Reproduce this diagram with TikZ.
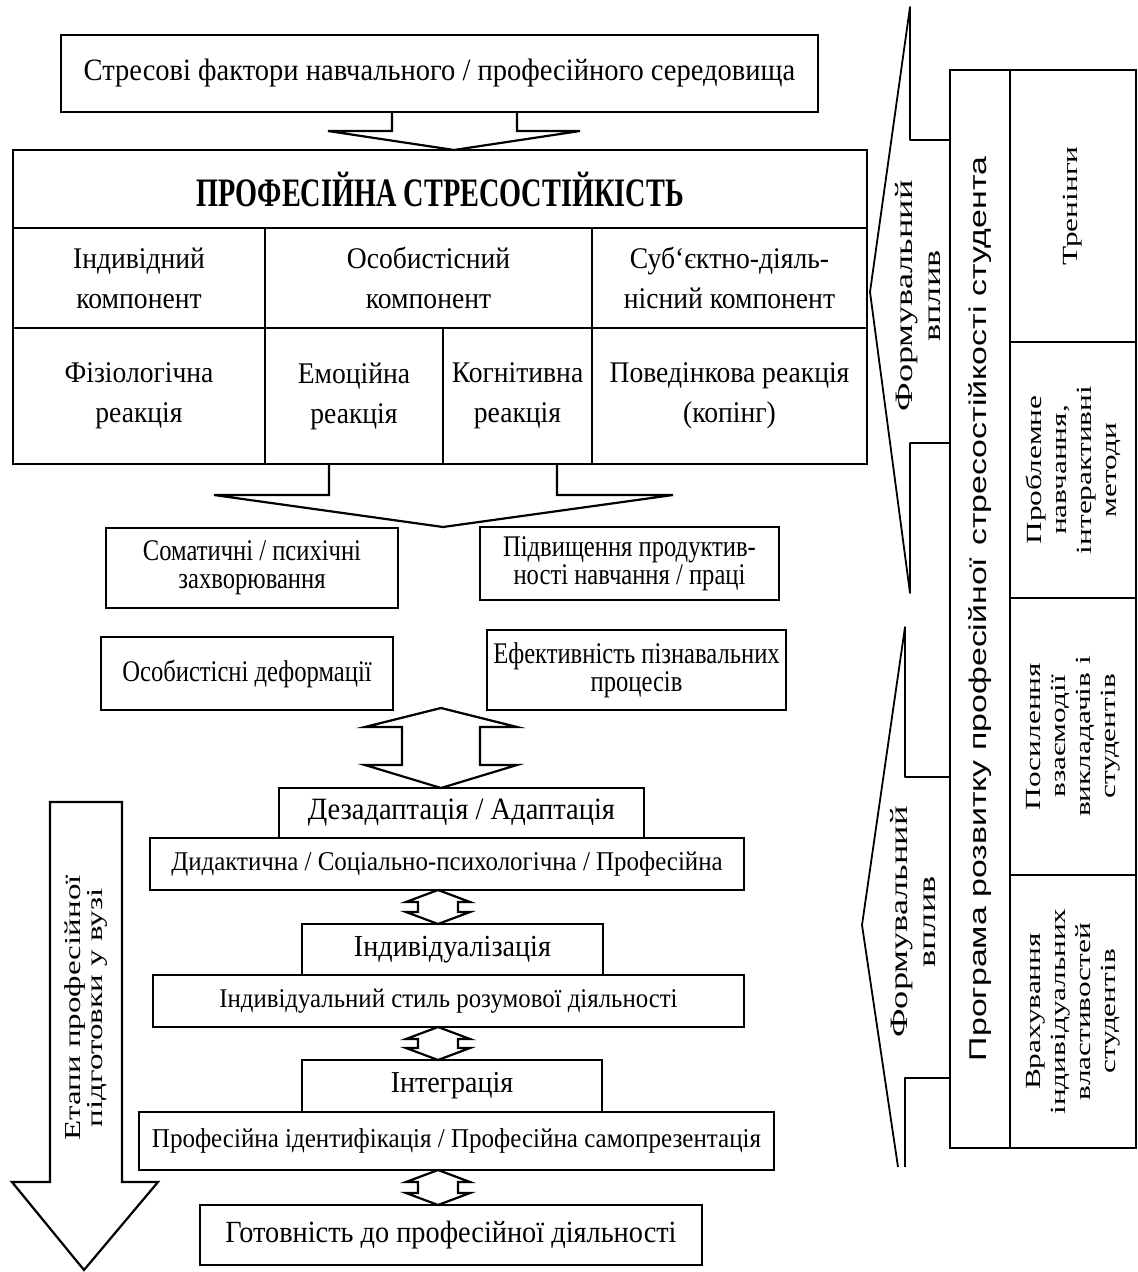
\documentclass[tikz,border=0pt]{standalone}
\usepackage{fontspec}
\setmainfont{Liberation Serif}[FakeStretch=0.92]
\newfontfamily\titlefont{Liberation Serif}[FakeStretch=0.7]
\newfontfamily\narrowfont{Liberation Serif}[FakeStretch=0.82]
\newfontfamily\rotfont{Liberation Serif}[FakeStretch=1.45]
\newfontfamily\rotsans{Liberation Sans}[FakeStretch=1.4]

\tikzset{
  cell/.style={draw, line width=1.35pt, inner sep=0pt, outer sep=0pt, align=center},
  comp/.style={cell, minimum height=50pt, font=\fontsize{15}{20}\selectfont},
  react/.style={cell, minimum height=68pt, font=\fontsize{15}{20}\selectfont},
  outc/.style={cell, font=\narrowfont\fontsize{15}{14}\selectfont},
  stage/.style={cell},
  meth/.style={cell, rotate=90, minimum height=63pt, font=\rotfont\fontsize{10.8}{12.5}\selectfont},
  fat/.style={draw, line width=1.1pt, line join=miter},
  side/.style={draw, line width=0.9pt, line join=round},
  infl/.style={rotate=90, align=center, inner sep=0pt, font=\rotfont\fontsize{12.5}{14}\selectfont}
}

\begin{document}
\begin{tikzpicture}[x=0.5pt, y=-0.5pt]
\useasboundingbox (0,0) rectangle (1138,1272);

% top and main block
\node[cell, minimum width=378.5pt, minimum height=38.5pt, font=\fontsize{15.5}{18}\selectfont] (stress) at (439.5,73.5) {Стресові фактори навчального / професійного середовища};
\node[cell, minimum width=427pt, minimum height=39pt, font=\titlefont\bfseries\fontsize{20.2}{22}\selectfont] (title) at (440,189) {ПРОФЕСІЙНА СТРЕСОСТІЙКІСТЬ};

\node[comp, minimum width=126pt] (ind) at (139,278) {Індивідний\\компонент};
\node[comp, minimum width=163.5pt] (osob) at (428.5,278) {Особистісний\\компонент};
\node[comp, minimum width=137.5pt] (subj) at (729.5,278) {Суб‘єктно-діяль-\\нісний компонент};

\node[react, minimum width=126pt] (fiz) at (139,396) {Фізіологічна\\реакція};
\node[react, minimum width=89pt] (emo) at (354,396) {Емоційна\\реакція};
\node[react, minimum width=74.5pt] (kog) at (517.5,396) {Когнітивна\\реакція};
\node[react, minimum width=137.5pt] (pov) at (729.5,396) {Поведінкова реакція\\(копінг)};

\draw[fat] (392,0 |- stress.south) -- (392,131) -- (328,131) -- (454,0 |- title.north) -- (580,131) -- (517,131) -- (517,0 |- stress.south);

% outcomes
\node[outc, minimum width=146pt, minimum height=40pt] (soma) at (252,568) {Соматичні / психічні\\захворювання};
\node[outc, minimum width=149.5pt, minimum height=36.5pt] (prod) at (629.5,563.5) {Підвищення продуктив-\\ності навчання / праці};
\node[outc, minimum width=146pt, minimum height=36.5pt] (deform) at (247,673.5) {Особистісні деформації};
\node[outc, minimum width=149.5pt, minimum height=40pt] (effect) at (636.5,670) {Ефективність пізнавальних\\процесів};

\draw[fat] (329,0 |- fiz.south) -- (329,495) -- (214,495) -- (443,527) -- (673,495) -- (557,495) -- (557,0 |- fiz.south);

% stages
\node[stage, minimum width=182.5pt, minimum height=25pt, font=\fontsize{15.5}{18}\selectfont] (dezad) at (461.5,813) {Дезадаптація / Адаптація};
\node[stage, minimum width=297pt, minimum height=26pt, font=\fontsize{13.55}{17}\selectfont] (didakt) at (447,864) {Дидактична / Соціально-психологічна / Професійна};
\node[stage, minimum width=150.5pt, minimum height=25.5pt, font=\fontsize{15.3}{18}\selectfont] (indiv) at (452.5,949.5) {Індивідуалізація};
\node[stage, minimum width=295.5pt, minimum height=26pt, font=\fontsize{13.5}{17}\selectfont] (styl) at (448.5,1001) {Індивідуальний стиль розумової діяльності};
\node[stage, minimum width=150pt, minimum height=26pt, font=\fontsize{15.2}{18}\selectfont] (integr) at (452,1086) {Інтеграція};
\node[stage, minimum width=317.5pt, minimum height=29pt, font=\fontsize{13.6}{17}\selectfont] (ident) at (456.5,1141) {Професійна ідентифікація / Професійна самопрезентація};
\node[stage, minimum width=251pt, minimum height=30pt, font=\fontsize{15.4}{18}\selectfont] (gotov) at (451,1235) {Готовність до професійної діяльності};

\draw[fat] (441,708) -- (517,727) -- (480,727) -- (480,765) -- (517,765) -- (441,0 |- dezad.north) -- (365,765) -- (402,765) -- (402,727) -- (365,727) -- cycle;

\foreach \a/\b in {didakt/indiv, styl/integr, ident/gotov} {
  \path (438,0 |- \a.south) coordinate (t) (438,0 |- \b.north) coordinate (u);
  \draw[fat] (t) -- ++(32,12) -- ++(-12,0) -- ([shift={(20,-12)}]u) -- ++(12,0) -- (u)
    -- ++(-32,-12) -- ++(12,0) -- ([shift={(-20,12)}]t) -- ++(-12,0) -- cycle;
}

% stages arrow
\draw[fat] (50,802) -- (122,802) -- (122,1182) -- (158,1182) -- (84,1270) -- (12,1182) -- (50,1182) -- cycle;
\node[infl, font=\rotfont\fontsize{11.4}{11}\selectfont] (etapy) at (86,1008) {Етапи професійної\\підготовки у вузі};

% programme
\node[cell, rotate=90, minimum width=539pt, minimum height=30pt, font=\rotsans\fontsize{12.1}{14}\selectfont] (prog) at (980,609) {Програма розвитку професійної\enspace стресостійкості студента};
\node[meth, minimum width=136pt] (trening) at (1073,206) {Тренінги};
\node[meth, minimum width=128pt] (problem) at (1073,470) {Проблемне\\навчання,\\інтерактивні\\методи};
\node[meth, minimum width=138.5pt] (posyl) at (1073,736.5) {Посилення\\взаємодії\\викладачів і\\студентів};
\node[meth, minimum width=136.5pt] (vrakh) at (1073,1011.5) {Врахування\\індивідуальних\\властивостей\\студентів};

% formative influence
\draw[side] (950,140) -- (910,140) -- (910,7) -- (870,292) -- (910,593) -- (910,443) -- (950,443);
\node[infl] (vplyv1) at (918,296) {Формувальний\\вплив};
\draw[side] (950,777) -- (905,777) -- (905,627) -- (862,925) -- (898,1167);
\draw[side] (905,1167) -- (905,1078) -- (950,1078);
\node[infl] (vplyv2) at (913,922) {Формувальний\\вплив};

\end{tikzpicture}
\end{document}
